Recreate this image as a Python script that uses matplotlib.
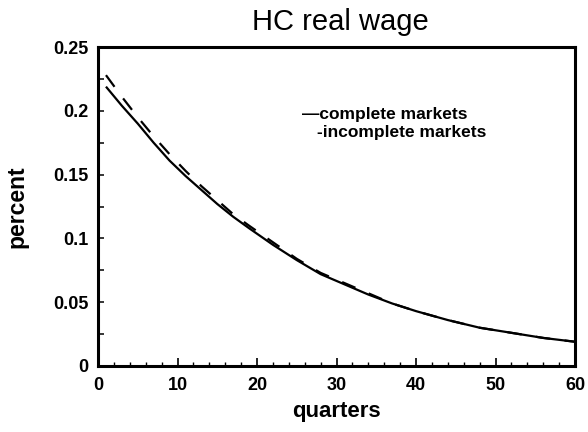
import matplotlib
matplotlib.use("Agg")
import matplotlib.pyplot as plt
from matplotlib.ticker import MultipleLocator

plt.rcParams['font.family'] = ['Liberation Sans', 'DejaVu Sans']

quarters = [1, 3, 5, 7, 9, 11, 13, 15, 17, 19, 22, 25, 28, 31, 34, 37, 40, 44, 48, 52, 56, 60]
complete = [0.219, 0.204, 0.190, 0.175, 0.161, 0.149, 0.138, 0.127, 0.117, 0.108, 0.095, 0.083,
            0.072, 0.064, 0.056, 0.049, 0.043, 0.036, 0.030, 0.026, 0.022, 0.019]
incomplete = [0.228, 0.211, 0.195, 0.180, 0.166, 0.153, 0.141, 0.130, 0.119, 0.110, 0.097, 0.084,
              0.073, 0.065, 0.057, 0.049, 0.043, 0.036, 0.030, 0.026, 0.022, 0.019]
xticks = [0, 10, 20, 30, 40, 50, 60]
yticks = [0, 0.05, 0.1, 0.15, 0.2, 0.25]
yticklabels = ['0', '0.05', '0.1', '0.15', '0.2', '0.25']

fig = plt.figure(figsize=(5.88, 4.32), dpi=100)
ax = fig.add_axes([0.1667, 0.1528, 0.8113, 0.7382])

ax.plot(quarters, complete, color='black', lw=1.6, solid_capstyle='butt')
ax.plot(quarters, incomplete, color='black', lw=1.6, dashes=(6.5, 6.5))

ax.set_xlim(0, 60)
ax.set_ylim(0, 0.25)
ax.set_xticks(xticks)
ax.set_yticks(yticks)
ax.set_yticklabels(yticklabels)
ax.xaxis.set_minor_locator(MultipleLocator(2))
ax.yaxis.set_minor_locator(MultipleLocator(0.025))
ax.tick_params(axis='x', direction='in', which='major', length=6, width=1.2, labelsize=13, pad=8)
ax.tick_params(axis='x', direction='in', which='minor', length=3, width=1)
ax.tick_params(axis='y', direction='in', which='both', length=4.5, width=1.1, labelsize=13, pad=7)
for lbl in ax.get_xticklabels() + ax.get_yticklabels():
    lbl.set_fontweight('bold')
for s in ax.spines.values():
    s.set_linewidth(2.2)

ax.text(0.509, 1.053, 'HC real wage', transform=ax.transAxes, fontsize=21,
        ha='center', va='baseline')
ax.set_xlabel('quarters', fontsize=16, fontweight='bold')
ax.set_ylabel('percent', fontsize=16.5, fontweight='bold')
ax.xaxis.set_label_coords(0.5, -0.11)
ax.yaxis.set_label_coords(-0.146, 0.5)

ax.text(0.428, 0.79, '\u2014complete markets', transform=ax.transAxes, fontsize=12.5,
        fontweight='bold', va='center', ha='left')
ax.text(0.459, 0.732, '-incomplete markets', transform=ax.transAxes, fontsize=12.5,
        fontweight='bold', va='center', ha='left')

fig.savefig('out.png', dpi=100)
